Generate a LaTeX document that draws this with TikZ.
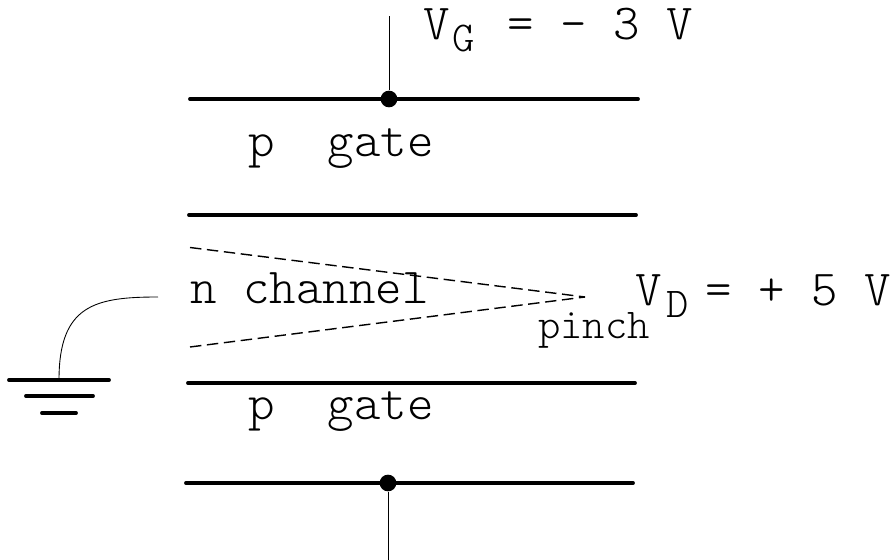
\documentclass[tikz,border=0pt]{standalone}
\usetikzlibrary{calc}
\tikzset{
  plate/.style={line width=2.2pt,line cap=round,black},
  wire/.style={line width=0.5pt,black},
  pinchline/.style={line width=0.8pt,dash pattern=on 6.5pt off 3.2pt,black},
  junction/.style={circle,fill=black,inner sep=0pt,minimum size=9.5pt},
  lbl/.style={inner sep=0pt,anchor=base west,font=\fontfamily{lmtt}\fontseries{l}\fontsize{28.7}{32}\selectfont},
  smalllbl/.style={inner sep=0pt,anchor=base west,font=\fontfamily{lmtt}\fontseries{l}\fontsize{24.2}{27}\selectfont},
}
\begin{document}
\begin{tikzpicture}[x=0.02cm,y=-0.02cm]
  \useasboundingbox (0,0) rectangle (894,560);
  % gate plates
  \coordinate (g1l) at (190,99);
  \coordinate (g1r) at (638,99);
  \coordinate (g2l) at (189,215);
  \coordinate (g2r) at (636,215);
  \coordinate (g3l) at (188,383);
  \coordinate (g3r) at (635,383);
  \coordinate (g4l) at (186,483);
  \coordinate (g4r) at (633,483);
  \draw[plate] (g1l) -- (g1r);
  \draw[plate] (g2l) -- (g2r);
  \draw[plate] (g3l) -- (g3r);
  \draw[plate] (g4l) -- (g4r);
  \node[junction] (top) at (389,99){};
  \node[junction] (bot) at (388,483){};
  \coordinate (topend) at (389,16);
  \coordinate (botend) at (388,560);
  \draw[wire] (top) -- (topend);
  \draw[wire] (bot) -- (botend);
  % depletion edges
  \coordinate (tip) at (585,297);
  \coordinate (dl1) at (190,247.5);
  \coordinate (dl2) at (190,347);
  \draw[pinchline] (dl1) -- (tip);
  \draw[pinchline] (dl2) -- (tip);
  % ground
  \coordinate (chan) at (158,297);
  \coordinate (gnd) at (59,380);
  \draw[wire] (chan) .. controls (95,297) and (59,305) .. (gnd);
  \coordinate (ga1) at (9,380);
  \coordinate (ga2) at (109,380);
  \coordinate (gb1) at (26,396);
  \coordinate (gb2) at (93,396);
  \coordinate (gc1) at (42,413);
  \coordinate (gc2) at (76,413);
  \draw[plate] (ga1) -- (ga2);
  \draw[plate] (gb1) -- (gb2);
  \draw[plate] (gc1) -- (gc2);
  % labels
  \node[lbl] (vg) at (423.5,40) {V};
  \node[smalllbl] (vgsub) at (452,52) {G};
  \node[lbl] (vgval) at (507,40) {= \textendash{} 3 V};
  \node[lbl] (gate1) at (248,157) {p\ \ gate};
  \node[lbl] (nch) at (190,304) {n channel};
  \node[lbl] (vd) at (635,306) {V};
  \node[smalllbl] (vdsub) at (666,318) {D};
  \node[lbl] (vdval) at (705.5,306) {= + 5 V};
  \node[smalllbl] (pinch) at (538,339) {pinch};
  \node[lbl] (gate2) at (248,420) {p\ \ gate};
\end{tikzpicture}
\end{document}
